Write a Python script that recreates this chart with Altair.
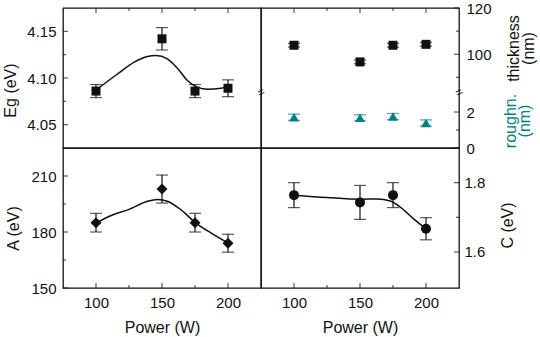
import altair as alt
import pandas as pd

# ---- measured values -------------------------------------------------------
power = [100, 150, 175, 200]

eg = [4.086, 4.142, 4.086, 4.089]
eg_err = [0.007, 0.012, 0.007, 0.009]
eg_fit_x = [100, 116, 129, 139, 145.5, 154, 162, 169.5, 177, 184.5, 194.5, 200]
eg_fit_y = [4.087, 4.104, 4.117, 4.123, 4.124, 4.1205, 4.110, 4.097, 4.090, 4.088, 4.089, 4.0905]

thickness = [103.9, 96.7, 103.9, 104.3]
thickness_err = [0.8, 0.8, 0.8, 0.8]
roughness = [1.71, 1.68, 1.75, 1.39]
roughness_err = [0.17, 0.17, 0.17, 0.17]

a_val = [185.0, 203.0, 185.0, 174.0]
a_err = [5.0, 7.5, 5.0, 4.8]
a_fit_x = [100, 112, 125, 139, 147, 154, 164, 175, 187, 200]
a_fit_y = [184.8, 189.0, 192.1, 196.5, 197.4, 196.5, 192.1, 185.2, 179.5, 174.1]

c_val = [1.764, 1.743, 1.764, 1.667]
c_err = [0.036, 0.049, 0.036, 0.032]
c_fit_x = [100, 125, 150, 163, 173, 181, 191, 200]
c_fit_y = [1.764, 1.757, 1.752, 1.753, 1.747, 1.728, 1.694, 1.667]

# ---- axis domains and tick values --------------------------------------------
X_DOM = [75, 225]
X_MAJOR = [100, 150, 200]
X_MINOR = [125, 175]

EG_DOM = [4.025, 4.175]
A_DOM = [150, 225]
C_DOM = [1.496, 1.9]

# Broken axis of the top-right panel: one scale in thickness units; the
# roughness values are placed below the break by a linear offset.
T_DOM = [59.5, 120]
R_SCALE = 7.775           # thickness units per nm of roughness
R_BREAK = 3.11            # roughness value at the break


def rough_pos(r):
    return T_DOM[0] + r * R_SCALE


R_EXPR = f"{T_DOM[0]} + datum.{{}} * {R_SCALE}"

W, H = 198, 140
FONT = "Liberation Sans"
TEAL = "#008080"
INK = "#111111"
BAR = 1.2     # stroke width of error bars and frame ticks


def scale(domain):
    return alt.Scale(domain=domain, nice=False, zero=False)


def table(x, v, e):
    return pd.DataFrame({"p": x, "v": v,
                         "lo": [a - b for a, b in zip(v, e)],
                         "hi": [a + b for a, b in zip(v, e)]})


def fit_table(x, v):
    return pd.DataFrame({"p": x, "v": v})


def series(base, ydom, xaxis, yaxis, shape, size, color, f=("v", "lo", "hi")):
    """Error bars with caps and filled symbols for one quantity."""
    xs = alt.X("p:Q", scale=scale(X_DOM), axis=xaxis)

    def ys(name):
        return alt.Y(f"{name}:Q", scale=scale(ydom), axis=yaxis)

    return [
        base.mark_rule(color=color, strokeWidth=BAR).encode(xs, ys(f[1]), y2=f"{f[2]}:Q"),
        base.mark_tick(orient="horizontal", size=12, thickness=BAR, color=color).encode(xs, ys(f[1])),
        base.mark_tick(orient="horizontal", size=12, thickness=BAR, color=color).encode(xs, ys(f[2])),
        base.mark_point(shape=shape, filled=True, size=size, color=color, opacity=1).encode(xs, ys(f[0])),
    ]


def fit_line(df, ydom, xaxis, yaxis):
    return alt.Chart(df).mark_line(interpolate="monotone", color=INK, strokeWidth=1.5).encode(
        alt.X("p:Q", scale=scale(X_DOM), axis=xaxis),
        alt.Y("v:Q", scale=scale(ydom), axis=yaxis))


def yticks(values, ydom, yaxis, side, length):
    # inward tick marks along a vertical frame edge
    xc = length / 2 if side == "left" else W - length / 2
    return alt.Chart(pd.DataFrame({"t": values})).mark_tick(
        orient="horizontal", size=length, thickness=BAR, color=INK).encode(
        y=alt.Y("t:Q", scale=scale(ydom), axis=yaxis), x=alt.value(xc))


def xticks(values, xaxis, side, length):
    # inward tick marks along a horizontal frame edge
    yc = length / 2 if side == "top" else H - length / 2
    return alt.Chart(pd.DataFrame({"t": values})).mark_tick(
        orient="vertical", size=length, thickness=BAR, color=INK).encode(
        x=alt.X("t:Q", scale=scale(X_DOM), axis=xaxis), y=alt.value(yc))


def panel(layers):
    return alt.layer(*layers).properties(width=W, height=H)


X_BOTTOM = alt.Axis(orient="bottom", values=X_MAJOR, ticks=False, domain=False, grid=False,
                    labelPadding=7, title="Power (W)", titlePadding=9)

# ---- Eg panel (top left) -------------------------------------------------------
EG_Y = alt.Axis(orient="left", values=[4.05, 4.10, 4.15], format=".2f", ticks=False,
                domain=False, grid=False, labelPadding=7, title="Eg (eV)",
                titleX=-45, titleY=82)
eg_panel = panel(
    series(alt.Chart(table(power, eg, eg_err)), EG_DOM, None, EG_Y, "square", 81, INK)
    + [
        fit_line(fit_table(eg_fit_x, eg_fit_y), EG_DOM, None, EG_Y),
        yticks([4.05, 4.10, 4.15], EG_DOM, EG_Y, "left", 5),
        yticks([4.075, 4.125], EG_DOM, EG_Y, "left", 3),
        xticks(X_MAJOR, None, "top", 5),
        xticks(X_MINOR, None, "top", 3),
    ]
)

# ---- thickness / roughness panel (top right) -------------------------------------
T_Y = alt.Axis(orient="right", values=[rough_pos(0), rough_pos(2), 100, 120],
               labelExpr=(f"datum.value > 80 ? format(datum.value, 'd') : "
                          f"format((datum.value - {T_DOM[0]}) / {R_SCALE}, '.0f')"),
               ticks=False, domain=False, grid=False, labelPadding=7,
               title=["thickness", "(nm)"], titleAngle=270, titleBaseline="top",
               titleLineHeight=15, titleX=46, titleY=40)

rough_base = alt.Chart(table(power, roughness, roughness_err)).transform_calculate(
    rv=R_EXPR.format("v"), rlo=R_EXPR.format("lo"), rhi=R_EXPR.format("hi"))

rough_title = alt.Chart(pd.DataFrame({"p": [X_DOM[1]]})).mark_text(
    text=["roughn.", "(nm)"], angle=270, baseline="top", align="center", lineHeight=14,
    font=FONT, fontSize=16, color=TEAL).encode(x=alt.value(242), y=alt.value(113))

breaks = pd.DataFrame({"p": [X_DOM[0], X_DOM[1]], "b": [rough_pos(R_BREAK)] * 2})
break_marks = alt.Chart(breaks).mark_text(text="=", angle=335, fontSize=12, color=INK,
                                          font=FONT).encode(
    alt.X("p:Q", scale=scale(X_DOM), axis=None),
    alt.Y("b:Q", scale=scale(T_DOM), axis=T_Y))

tr_panel = panel(
    series(alt.Chart(table(power, thickness, thickness_err)), T_DOM, None, T_Y, "square", 81, INK)
    + series(rough_base, T_DOM, None, T_Y, "triangle-up", 100, TEAL, f=("rv", "rlo", "rhi"))
    + [
        yticks([100, 120], T_DOM, T_Y, "right", 5),
        yticks([90, 110], T_DOM, T_Y, "right", 3),
        yticks([rough_pos(0), rough_pos(2)], T_DOM, T_Y, "right", 5),
        yticks([rough_pos(1)], T_DOM, T_Y, "right", 3),
        xticks(X_MAJOR, None, "top", 5),
        xticks(X_MINOR, None, "top", 3),
        break_marks,
        rough_title,
    ]
)

# ---- A panel (bottom left) -------------------------------------------------------
A_Y = alt.Axis(orient="left", values=[150, 180, 210], ticks=False, domain=False, grid=False,
               labelPadding=7, title="A (eV)", titleX=-42, titleY=80)
a_panel = panel(
    series(alt.Chart(table(power, a_val, a_err)), A_DOM, X_BOTTOM, A_Y, "diamond", 121, INK)
    + [
        fit_line(fit_table(a_fit_x, a_fit_y), A_DOM, X_BOTTOM, A_Y),
        yticks([150, 180, 210], A_DOM, A_Y, "left", 5),
        yticks([165, 195], A_DOM, A_Y, "left", 3),
        xticks(X_MAJOR, X_BOTTOM, "bottom", 5),
        xticks(X_MINOR, X_BOTTOM, "bottom", 3),
    ]
)

# ---- C panel (bottom right) -------------------------------------------------------
C_Y = alt.Axis(orient="right", values=[1.6, 1.8], format=".1f", ticks=False, domain=False,
               grid=False, labelPadding=5, title="C (eV)", titleAngle=270,
               titleBaseline="top", titleX=40, titleY=77)
c_panel = panel(
    series(alt.Chart(table(power, c_val, c_err)), C_DOM, X_BOTTOM, C_Y, "circle", 100, INK)
    + [
        fit_line(fit_table(c_fit_x, c_fit_y), C_DOM, X_BOTTOM, C_Y),
        yticks([1.6, 1.8], C_DOM, C_Y, "right", 5),
        yticks([1.7], C_DOM, C_Y, "right", 3),
        xticks(X_MAJOR, X_BOTTOM, "bottom", 5),
        xticks(X_MINOR, X_BOTTOM, "bottom", 3),
    ]
)

chart = (
    alt.concat(eg_panel, tr_panel, a_panel, c_panel, columns=2, spacing=0, bounds="flush")
    .properties(padding={"left": 1, "top": 0, "right": 2, "bottom": 2}, background="white")
    .configure_axis(labelFont=FONT, labelFontSize=15, labelColor=INK,
                    titleFont=FONT, titleFontSize=16, titleFontWeight="normal",
                    titleColor=INK)
    .configure_view(stroke=INK, strokeWidth=1.3)
)

chart.save("out.html", embed_options={"renderer": "svg", "actions": False})
